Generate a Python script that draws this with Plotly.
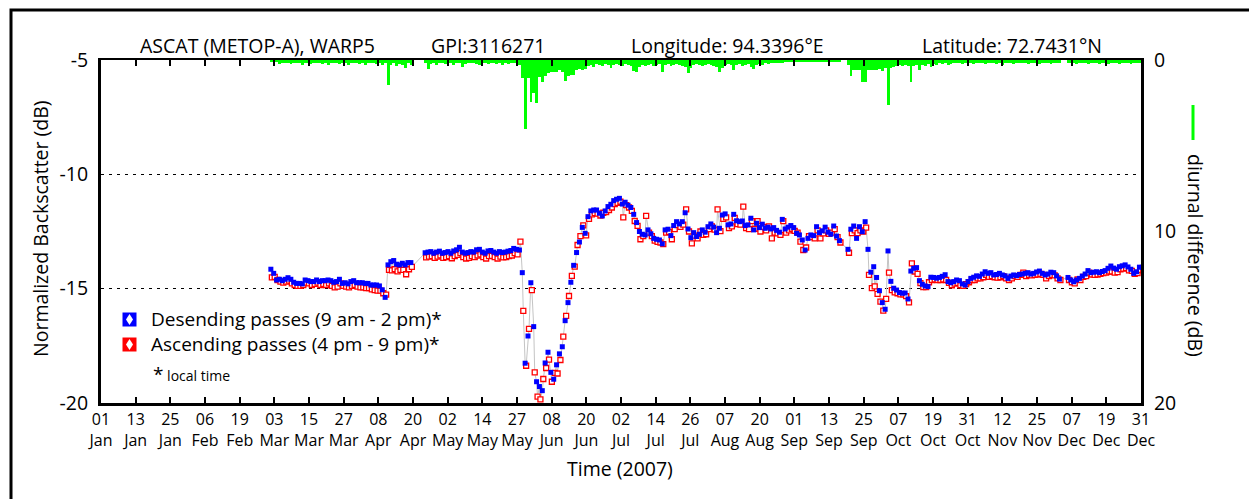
import plotly.graph_objects as go

# ---------------- data (day of year 2007, Jan 1 = 0) ----------------
days = (list(range(59, 109)) + list(range(113, 259)) +
        list(range(261, 336)) + list(range(338, 365)))

desc_vals = [
    # Mar 1 - Apr 10
    -14.15, -14.33, -14.62, -14.59, -14.65, -14.59, -14.52, -14.59, -14.72, -14.77,
    -14.77, -14.79, -14.62, -14.65, -14.69, -14.69, -14.62, -14.69, -14.65, -14.65,
    -14.62, -14.65, -14.72, -14.69, -14.59, -14.77, -14.74, -14.79, -14.69, -14.65,
    -14.74, -14.74, -14.74, -14.77, -14.77, -14.84, -14.84, -14.84, -14.88, -15.05,
    -15.38,
    # Apr 11 - Apr 19
    -13.96, -13.82, -13.77, -13.93, -13.96, -13.89, -13.96, -13.86, -13.86,
    # Apr 24 - May 27
    -13.43, -13.40, -13.38, -13.45, -13.40, -13.36, -13.45, -13.42, -13.38, -13.45,
    -13.35, -13.30, -13.19, -13.40, -13.45, -13.42, -13.38, -13.40, -13.30, -13.28,
    -13.40, -13.45, -13.35, -13.33, -13.40, -13.45, -13.38, -13.42, -13.40, -13.36,
    -13.33, -13.24, -13.28, -13.31,
    # May 28 - Jun 19
    -14.30, -18.26, -17.07, -14.74, -16.66, -19.07, -19.28, -19.46, -18.25, -17.78,
    -18.66, -18.96, -18.33, -17.85, -17.54, -16.40, -15.61, -14.72, -13.98, -13.42,
    -12.96, -12.32, -12.58,
    # Jun 20 - Sep 16
    -11.85, -11.60, -11.56, -11.56, -11.70, -11.82, -11.60, -11.41, -11.31, -11.15,
    -11.09, -11.05, -11.30, -11.22, -11.35, -11.45, -11.75, -12.11, -12.50, -12.62,
    -12.65, -12.43, -12.60, -12.80, -12.84, -12.87, -13.04, -12.43, -12.40, -12.68,
    -12.24, -12.07, -12.17, -12.07, -11.68, -12.39, -12.77, -12.55, -12.72, -12.62,
    -12.43, -12.53, -12.29, -12.17, -12.31, -12.55, -12.36, -11.78, -11.73, -12.21,
    -12.17, -11.75, -12.03, -12.07, -12.04, -12.24, -12.21, -11.92, -12.43, -12.14,
    -12.33, -12.18, -12.36, -12.31, -12.39, -12.33, -12.45, -12.53, -11.97, -12.39,
    -12.31, -12.24, -12.33, -12.58, -12.65, -12.87, -13.31, -12.80, -12.65, -12.68,
    -12.29, -12.55, -12.47, -12.31, -12.53, -12.62, -12.26, -12.70, -12.90,
    # Sep 19 - Dec 2
    -13.28, -12.40, -12.26, -12.80, -12.29, -12.51, -12.07, -13.28, -14.28, -14.04,
    -14.51, -15.09, -15.61, -15.90, -13.35, -14.68, -14.98, -15.06, -15.17, -15.20,
    -15.19, -15.45, -14.23, -14.11, -14.08, -14.65, -14.81, -14.88, -14.91, -14.50,
    -14.51, -14.54, -14.51, -14.46, -14.39, -14.69, -14.74, -14.69, -14.62, -14.65,
    -14.79, -14.84, -14.69, -14.55, -14.50, -14.44, -14.46, -14.36, -14.26, -14.33,
    -14.30, -14.40, -14.38, -14.33, -14.40, -14.44, -14.55, -14.45, -14.40, -14.43,
    -14.38, -14.36, -14.33, -14.30, -14.36, -14.33, -14.27, -14.23, -14.33, -14.40,
    -14.36, -14.28, -14.30, -14.44, -14.58,
    # Dec 5 - Dec 31
    -14.51, -14.62, -14.70, -14.62, -14.55, -14.45, -14.36, -14.21, -14.30, -14.28,
    -14.26, -14.30, -14.25, -14.21, -14.11, -14.01, -14.10, -14.15, -14.04, -14.00,
    -13.96, -14.05, -14.15, -14.33, -14.26, -14.06, -14.06,
]

asc_vals = [
    -14.51, -14.48, -14.62, -14.69, -14.74, -14.69, -14.65, -14.77, -14.84, -14.88,
    -14.88, -14.84, -14.74, -14.77, -14.84, -14.79, -14.74, -14.84, -14.79, -14.84,
    -14.77, -14.88, -14.94, -14.91, -14.77, -14.88, -14.91, -14.94, -14.88, -14.84,
    -14.91, -14.94, -14.94, -14.98, -14.98, -15.03, -15.06, -15.09, -15.09, -15.20,
    -15.26,
    -14.18, -14.20, -14.15, -14.24, -14.18, -14.18, -14.37, -14.15, -14.05,
    -13.63, -13.60, -13.58, -13.65, -13.60, -13.55, -13.65, -13.62, -13.58, -13.67,
    -13.58, -13.52, -13.45, -13.62, -13.68, -13.65, -13.58, -13.62, -13.55, -13.50,
    -13.62, -13.68, -13.58, -13.57, -13.62, -13.68, -13.60, -13.63, -13.62, -13.58,
    -13.55, -13.45, -13.50, -12.94,
    -15.97, -18.37, -16.76, -15.06, -18.66, -19.72, -19.84, -18.95, -18.47, -18.10,
    -19.07, -18.68, -18.71, -18.12, -17.10, -16.19, -15.32, -14.44, -14.04, -13.09,
    -12.70, -12.23, -12.67,
    -11.95, -11.75, -11.70, -11.72, -11.80, -11.68, -11.65, -11.56, -11.45, -11.30,
    -11.25, -11.20, -11.88, -11.35, -11.45, -11.60, -12.04, -12.25, -12.84, -12.70,
    -11.82, -12.55, -12.70, -12.90, -12.95, -12.98, -13.05, -12.55, -12.52, -12.84,
    -12.40, -12.22, -12.30, -12.20, -11.53, -12.50, -13.02, -12.68, -12.80, -12.50,
    -12.65, -12.62, -12.40, -12.28, -12.42, -11.53, -12.48, -11.95, -11.88, -12.35,
    -12.28, -11.90, -12.18, -12.20, -11.41, -12.35, -12.40, -12.05, -12.38, -12.05,
    -12.50, -12.30, -12.45, -12.28, -12.80, -12.55, -12.58, -12.65, -12.05, -12.55,
    -12.45, -12.38, -12.47, -12.55, -12.94, -13.31, -13.20, -12.70, -12.75, -12.80,
    -12.45, -12.80, -12.58, -12.45, -12.60, -12.55, -12.40, -12.75, -12.98,
    -13.43, -12.57, -12.45, -12.57, -12.45, -12.50, -12.33, -14.40, -14.98, -14.90,
    -15.23, -15.57, -15.96, -15.45, -14.30, -15.06, -15.16, -15.20, -15.25, -15.25,
    -15.33, -15.60, -13.89, -14.25, -14.35, -14.76, -14.93, -14.93, -14.72, -14.62,
    -14.60, -14.62, -14.62, -14.60, -14.62, -14.75, -14.85, -14.78, -14.75, -14.85,
    -14.88, -14.80, -14.72, -14.62, -14.62, -14.55, -14.55, -14.50, -14.40, -14.48,
    -14.45, -14.50, -14.52, -14.50, -14.45, -14.55, -14.62, -14.55, -14.45, -14.48,
    -14.40, -14.30, -14.45, -14.40, -14.42, -14.40, -14.38, -14.35, -14.40, -14.55,
    -14.45, -14.40, -14.42, -14.55, -14.62,
    -14.62, -14.72, -14.77, -14.60, -14.62, -14.48, -14.45, -14.30, -14.38, -14.40,
    -14.38, -14.35, -14.32, -14.30, -14.25, -14.25, -14.30, -14.28, -14.15, -14.12,
    -14.10, -14.20, -14.22, -14.35, -14.32, -14.18, -14.20,
]

diurnal_vals = [
    0.10, 0.10, 0.10, 0.25, 0.20, 0.15, 0.20, 0.25, 0.20, 0.15,
    0.20, 0.30, 0.20, 0.15, 0.25, 0.20, 0.20, 0.15, 0.25, 0.20,
    0.30, 0.20, 0.15, 0.20, 0.25, 0.20, 0.20, 0.30, 0.20, 0.15,
    0.20, 0.25, 0.20, 0.30, 0.20, 0.15, 0.20, 0.25, 0.20, 0.30,
    0.20,
    1.46, 0.30, 0.20, 0.35, 0.25, 0.30, 0.45, 0.20, 0.30,
    0.20, 0.54, 0.25, 0.20, 0.30, 0.20, 0.15, 0.25, 0.20, 0.20,
    0.30, 0.20, 0.20, 0.39, 0.25, 0.20, 0.20, 0.15, 0.25, 0.29,
    0.20, 0.20, 0.25, 0.15, 0.20, 0.25, 0.20, 0.30, 0.20, 0.25,
    0.20, 0.15, 0.20, 0.30,
    1.07, 4.04, 1.07, 2.43, 1.94, 2.49, 1.00, 1.26, 0.92, 0.75,
    0.70, 0.72, 0.68, 0.60, 0.70, 1.20, 0.95, 0.90, 0.85, 0.60,
    0.55, 0.60, 0.50,
    0.35, 0.30, 0.40, 0.25, 0.30, 0.35, 0.25, 0.30, 0.49, 0.30,
    0.25, 0.30, 0.35, 0.25, 0.30, 0.35, 0.62, 0.68, 0.40, 0.30,
    0.35, 0.30, 0.25, 0.35, 0.30, 0.25, 0.68, 0.30, 0.25, 0.35,
    0.30, 0.25, 0.30, 0.35, 0.40, 0.78, 0.45, 0.30, 0.25, 0.30,
    0.35, 0.30, 0.25, 0.30, 0.35, 0.40, 0.68, 0.45, 0.30, 0.25,
    0.30, 0.58, 0.30, 0.25, 0.35, 0.30, 0.25, 0.40, 0.55, 0.30,
    0.25, 0.30, 0.20, 0.25, 0.20, 0.15, 0.20, 0.15, 0.20, 0.10,
    0.10, 0.10, 0.10, 0.10, 0.10, 0.10, 0.10, 0.10, 0.10, 0.10,
    0.10, 0.10, 0.10, 0.10, 0.10, 0.10, 0.10, 0.10, 0.10,
    0.30, 0.93, 0.58, 0.58, 0.58, 1.26, 1.26, 0.58, 0.58, 0.58,
    0.58, 0.50, 0.65, 0.45, 2.62, 0.45, 0.40, 0.35, 0.30, 0.35,
    0.30, 0.35, 1.26, 0.35, 0.30, 0.58, 0.30, 0.35, 0.25, 0.39,
    0.25, 0.30, 0.20, 0.25, 0.20, 0.30, 0.25, 0.20, 0.15, 0.20,
    0.25, 0.20, 0.15, 0.20, 0.25, 0.20, 0.15, 0.20, 0.25, 0.20,
    0.15, 0.20, 0.25, 0.20, 0.30, 0.20, 0.15, 0.20, 0.25, 0.20,
    0.20, 0.15, 0.20, 0.25, 0.20, 0.15, 0.20, 0.25, 0.20, 0.15,
    0.20, 0.25, 0.20, 0.15, 0.20,
    0.20, 0.15, 0.20, 0.25, 0.20, 0.15, 0.20, 0.25, 0.20, 0.15,
    0.20, 0.25, 0.15, 0.20, 0.25, 0.20, 0.15, 0.20, 0.25, 0.20,
    0.15, 0.20, 0.25, 0.20, 0.15, 0.20, 0.30,
]

tick_labels = ["01<br>Jan", "13<br>Jan", "25<br>Jan", "06<br>Feb", "19<br>Feb",
               "03<br>Mar", "15<br>Mar", "27<br>Mar", "08<br>Apr", "20<br>Apr",
               "02<br>May", "14<br>May", "27<br>May", "08<br>Jun", "20<br>Jun",
               "02<br>Jul", "14<br>Jul", "26<br>Jul", "07<br>Aug", "20<br>Aug",
               "01<br>Sep", "13<br>Sep", "25<br>Sep", "07<br>Oct", "19<br>Oct",
               "31<br>Oct", "12<br>Nov", "25<br>Nov", "07<br>Dec", "19<br>Dec",
               "31<br>Dec"]

# ---------------- layout geometry (screen pixels of the target) ----------------
W, H = 1257, 499
OFF = 8                      # page body margin that shifts the figure
L, R, T, B = 101, 1141, 60, 403
FONT = "Open Sans"
DESC_T, ASC_T = 0.45, 0.8   # pass time of day (fraction of day)

def px(x):
    return (x - L) / (R - L)

def py(y):
    return (B - y) / (B - T)

desc_x = [d + DESC_T for d in days]
asc_x = [d + ASC_T for d in days]
pts = sorted(list(zip(desc_x, desc_vals)) + list(zip(asc_x, asc_vals)))
tickvals = [i * 364 / 30 for i in range(31)]

fig = go.Figure()
fig.add_trace(go.Bar(x=[d + 0.5 for d in days], y=diurnal_vals, width=1.0,
                     marker=dict(color="#00ff00", line=dict(width=0)),
                     xaxis="x", yaxis="y2", showlegend=False, hoverinfo="skip"))
fig.add_trace(go.Scatter(x=[p[0] for p in pts], y=[p[1] for p in pts], mode="lines",
                         line=dict(color="#c4c4c4", width=1), showlegend=False,
                         hoverinfo="skip"))
fig.add_trace(go.Scatter(x=asc_x, y=asc_vals, mode="markers",
                         marker=dict(symbol="square", size=5, color="white",
                                     line=dict(color="#ff0000", width=1.3)),
                         showlegend=False))
fig.add_trace(go.Scatter(x=desc_x, y=desc_vals, mode="markers",
                         marker=dict(symbol="square", size=5, color="#0000ff",
                                     line=dict(width=0)),
                         showlegend=False))
fig.add_trace(go.Scatter(x=[0], y=[-20], xaxis="x2", mode="markers",
                         marker=dict(opacity=0), showlegend=False, hoverinfo="skip"))

shapes = []
# outer frame
shapes.append(dict(type="rect", xref="paper", yref="paper", x0=px(11), x1=px(1300),
                   y0=py(10), y1=py(560), line=dict(color="black", width=3),
                   layer="below"))
# legend icons
for cy, col in [(319.5, "#0000ff"), (344.5, "#ff0000")]:
    shapes.append(dict(type="rect", xref="paper", yref="paper",
                       x0=px(122.5), x1=px(136.5), y0=py(cy - 7), y1=py(cy + 7),
                       fillcolor=col, line=dict(width=0)))
    cx = 129.5
    path = (f"M {px(cx)},{py(cy - 5.5)} L {px(cx + 3.5)},{py(cy)} "
            f"L {px(cx)},{py(cy + 5.5)} L {px(cx - 3.5)},{py(cy)} Z")
    shapes.append(dict(type="path", xref="paper", yref="paper", path=path,
                       fillcolor="white", line=dict(width=0)))
# green key glyph for the right axis
shapes.append(dict(type="line", xref="paper", yref="paper", x0=px(1193), x1=px(1193),
                   y0=py(105), y1=py(140), line=dict(color="#00ff00", width=3)))

def ann(text, x, y, size=19.5, xanchor="center", yanchor="middle", angle=0):
    return dict(text=text, x=px(x), y=py(y), xref="paper", yref="paper",
                showarrow=False, xanchor=xanchor, yanchor=yanchor, textangle=angle,
                font=dict(family=FONT, size=size, color="black"))

annotations = [
    ann("ASCAT (METOP-A), WARP5", 257, 45),
    ann("GPI:3116271", 488, 45),
    ann("Longitude: 94.3396°E", 727, 45),
    ann("Latitude: 72.7431°N", 1012, 45),
    ann("Desending passes (9 am - 2 pm)*", 149, 319, size=19, xanchor="left"),
    ann("Ascending passes (4 pm - 9 pm)*", 149, 344, size=19, xanchor="left"),
    ann("<span style='font-size:19px'>*</span> local time", 151, 374, size=14,
        xanchor="left"),
    ann("Normalized Backscatter (dB)", 40, 229, angle=-90),
    ann("diurnal difference (dB)", 1196, 255, angle=90),
    ann("Time (2007)", 620, 468),
]

fig.update_layout(
    width=W, height=H, autosize=False,
    margin=dict(l=L - OFF, r=W - (R - OFF), t=T - OFF, b=H - (B - OFF), pad=0),
    paper_bgcolor="white", plot_bgcolor="white",
    font=dict(family=FONT, color="black"),
    bargap=0,
    xaxis=dict(range=[0, 364], tickvals=tickvals, ticktext=tick_labels,
               tickfont=dict(size=16), ticks="inside", ticklen=6, tickwidth=2,
               tickcolor="black", showline=True, linewidth=3, linecolor="black",
               showgrid=False, zeroline=False),
    xaxis2=dict(range=[0, 364], overlaying="x", side="top", tickvals=tickvals,
                showticklabels=False, ticks="inside", ticklen=6, tickwidth=2,
                tickcolor="black", showline=True, linewidth=2, linecolor="black",
                showgrid=False, zeroline=False),
    yaxis=dict(range=[-20, -5], tickvals=[-20, -15, -10, -5],
               ticktext=["-20", "-15", "-10", "-5"], tickfont=dict(size=19.5),
               ticks="", showline=True, linewidth=3, linecolor="black",
               showgrid=True, gridcolor="black", gridwidth=1, griddash="3px,5px",
               zeroline=False, ticklabelstandoff=6),
    yaxis2=dict(range=[20, 0], overlaying="y", side="right", tickvals=[0, 10, 20],
                ticktext=["0", "10", "20"], tickfont=dict(size=19.5), ticks="",
                showline=True, linewidth=3, linecolor="black", showgrid=False,
                zeroline=False, ticklabelstandoff=6),
    shapes=shapes,
    annotations=annotations,
)

fig.write_html("out.html")
